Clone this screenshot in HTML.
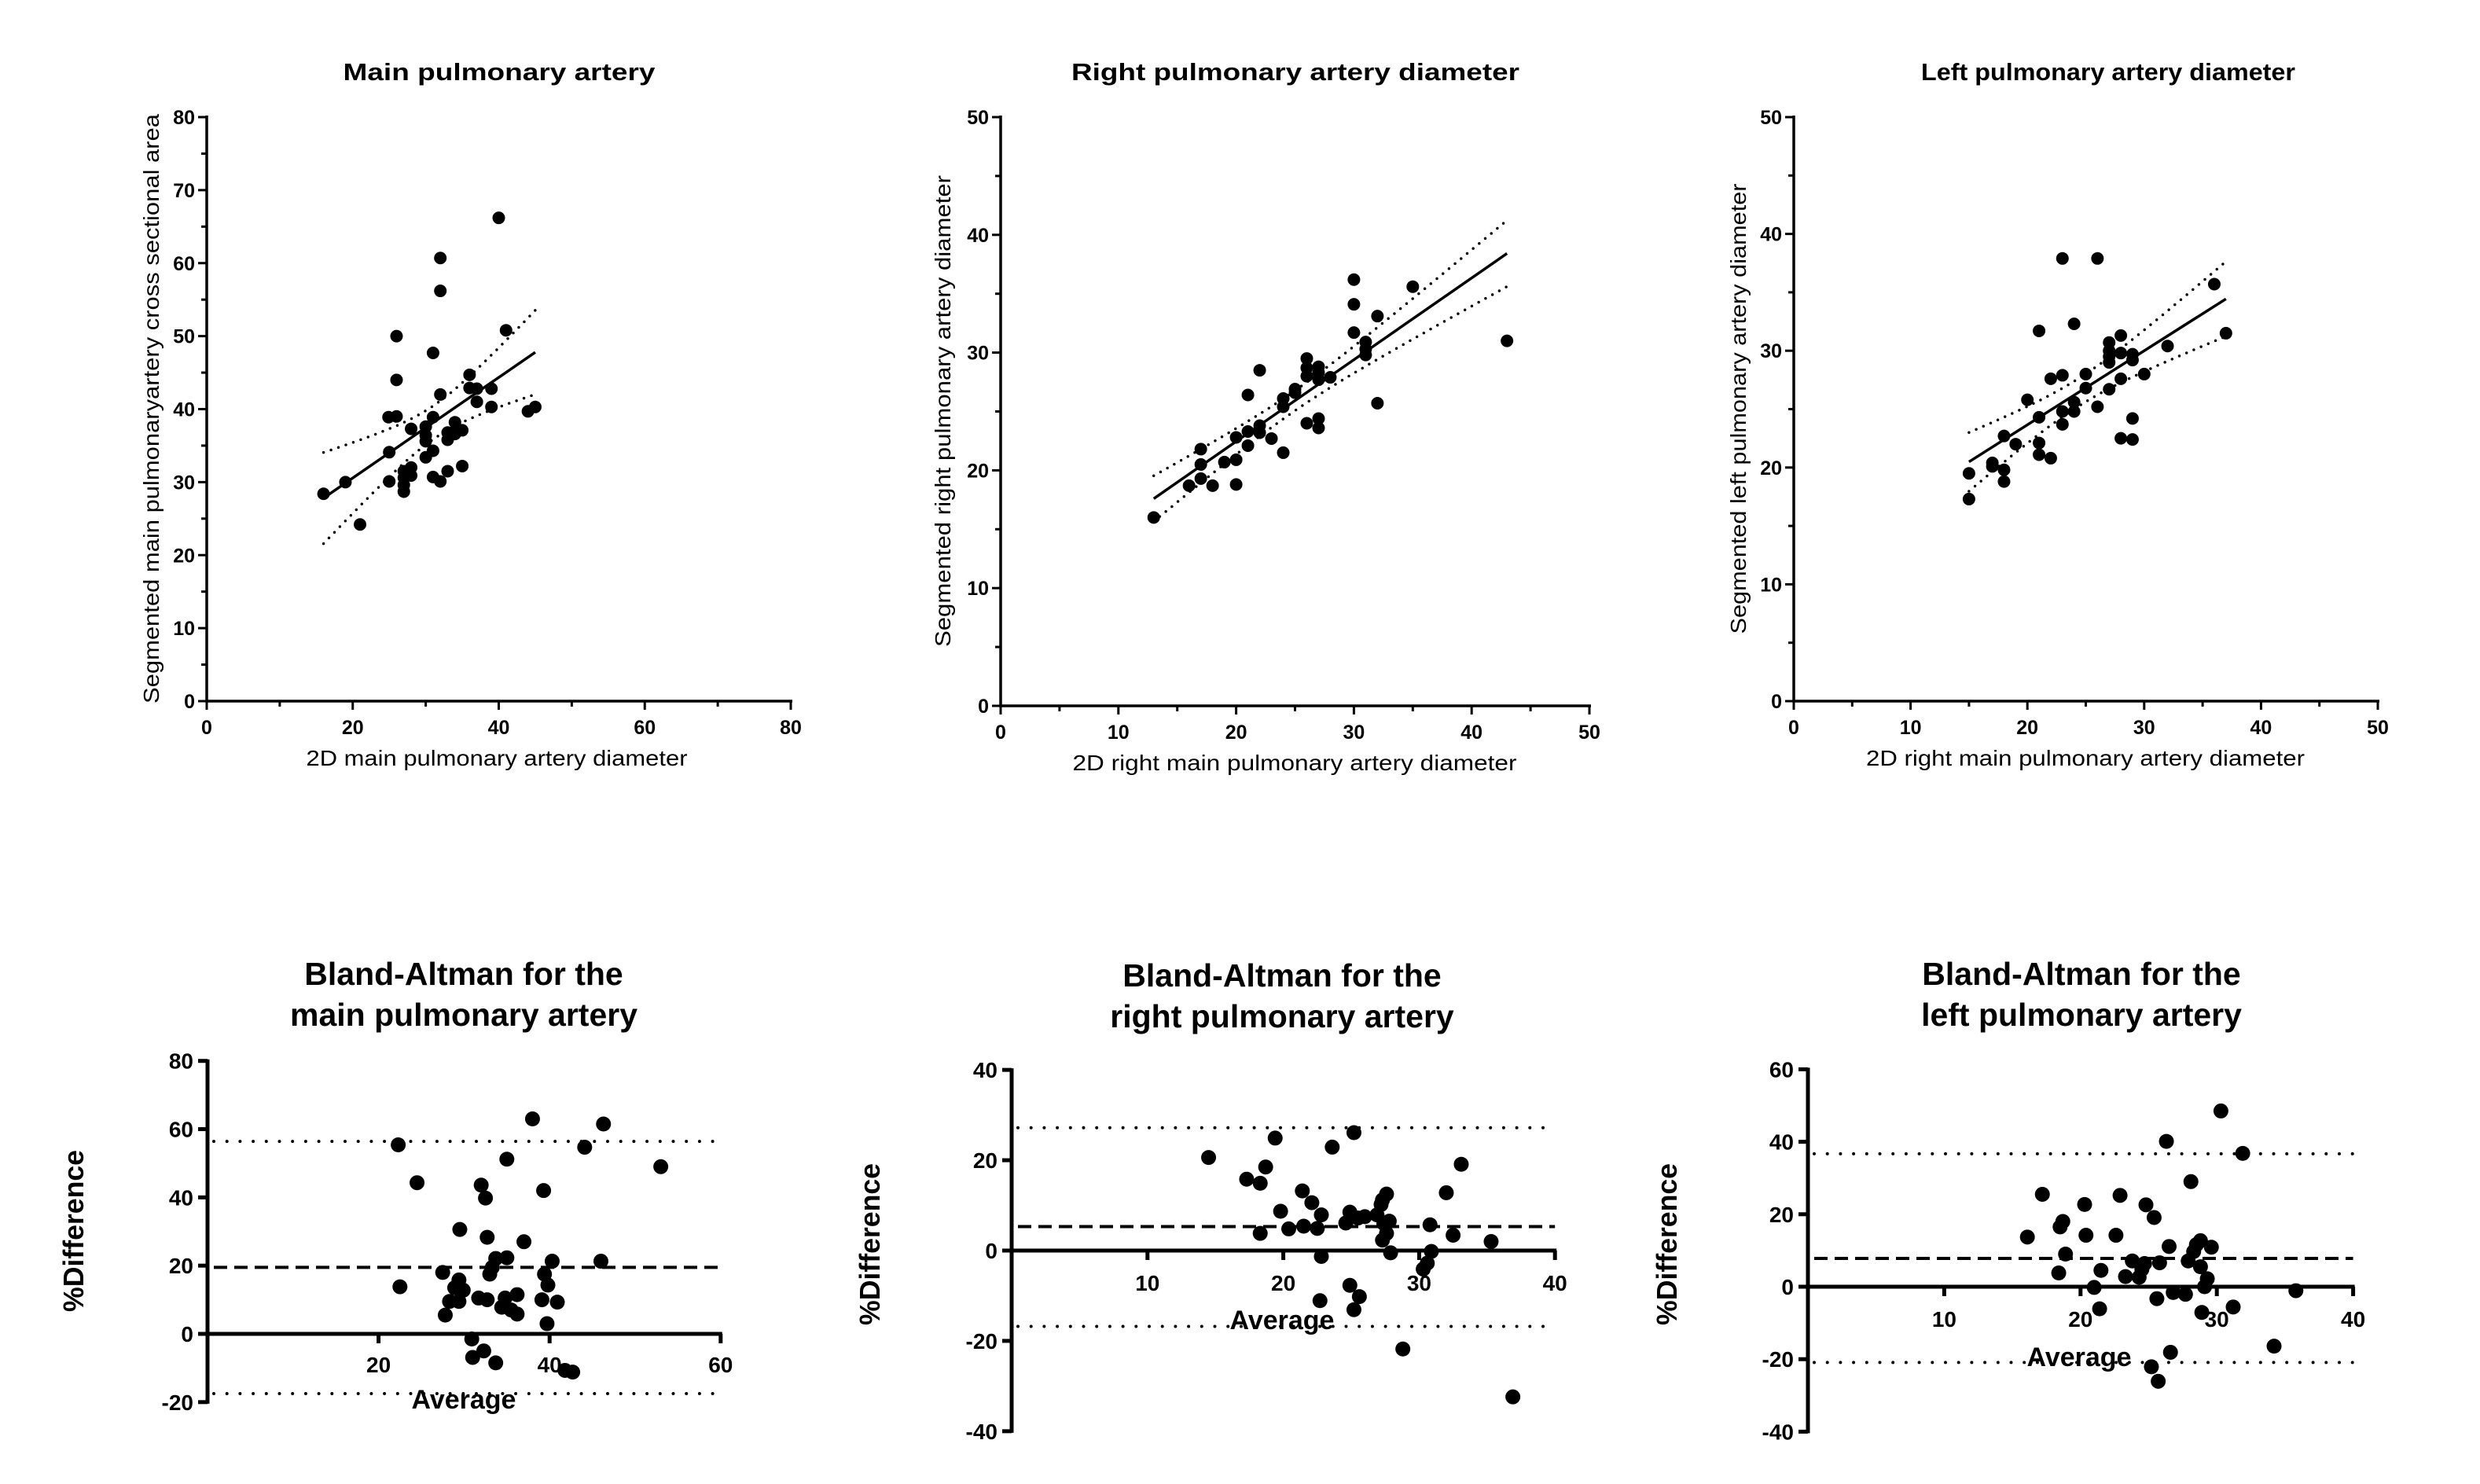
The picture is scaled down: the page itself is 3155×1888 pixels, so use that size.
<!DOCTYPE html>
<html><head><meta charset="utf-8"><style>
html,body{margin:0;padding:0;background:#fff}
svg{display:block}
text{font-family:"Liberation Sans",Arial,sans-serif;fill:#000}
</style></head><body>
<svg id="fig" width="3155" height="1888" viewBox="0 0 3155 1888" xmlns="http://www.w3.org/2000/svg"></svg>
<script>
// ---- Scatter 1: main pulmonary artery ----
const mpaX = [16,19,21,24.9,26,25,25,26,26,28,27,27,27,27,28,28,30,30,30,30,31,31,31,31,32,32,32,32,33,33,33,34,34,35,35,36,36,37,37,39,39,40,41,44,45];
const mpaY = [28.4,30,24.2,38.9,39,34.1,30.1,50,44,37.3,31.5,30.6,29.6,28.7,32,30.9,37.6,36.4,35.6,33.4,47.7,38.9,34.3,30.7,60.7,56.2,42,30.1,36.8,35.8,31.5,38.2,36.6,37.1,32.2,44.7,42.9,42.8,41,42.8,40.3,66.2,50.8,39.7,40.3];
const mpaXTicks = [0,20,40,60,80];
const mpaYTicks = [0,10,20,30,40,50,60,70,80];
// ---- Scatter 2: right pulmonary artery ----
const rpaX = [13,16,17,17,17,18,19,20,20,20,21,21,21,22,22,22,23,24,24,24,25,25,26,26,26,26,27,27,27,27,27,28,30,30,30,31,31,31,32,32,35,43];
const rpaY = [16,18.7,21.8,20.5,19.3,18.7,20.7,22.8,20.9,18.8,26.4,23.3,22.1,28.5,23.8,23.2,22.7,26.1,25.4,21.5,26.9,26.6,29.5,28.7,28.0,24,28.8,28.3,27.7,24.4,23.6,27.9,36.2,34.1,31.7,30.9,30.3,29.8,33.1,25.7,35.6,31];
const rpaXTicks = [0,10,20,30,40,50];
const rpaYTicks = [0,10,20,30,40,50];
// ---- Scatter 3: left pulmonary artery ----
const lpaX = [15,15,17,17,18,18,18,19,20,21,21,21,21,22,22,23,23,23,23,24,24,24,25,25,26,26,27,27,27,27,27,28,28,28,28,29,29,29,29,30,32,36,37];
const lpaY = [19.5,17.3,20.4,20.1,22.7,19.8,18.8,22,25.8,31.7,24.3,22.1,21.1,27.6,20.8,37.9,27.9,24.8,23.7,32.3,25.6,24.8,28,26.8,37.9,25.2,30.7,30,29.5,29,26.7,31.3,29.8,27.6,22.5,29.7,29.2,24.2,22.4,28,30.4,35.7,31.5];
const lpaXTicks = [0,10,20,30,40,50];
const lpaYTicks = [0,10,20,30,40,50];
// ---- Bland-Altman main ----
const baMainAvg = [22.3,22.5,24.5,27.5,27.8,28.3,29.4,28.9,29.9,29.4,29.5,30.9,31,31.7,32,32.5,32.7,32.7,32.3,33,33.3,33.7,33.7,34.4,34.8,35,35,35.5,36.2,36.2,37,38,39.1,39.4,39.3,39.8,39.7,40.3,40.9,41.8,42.7,44.1,46,46.3,53];
const baMainDiff = [55.4,13.8,44.3,18,5.5,9.5,15.8,13.5,12.8,9.5,30.6,-1.5,-6.9,10.5,43.6,39.8,28.3,10,-5,17.5,19.5,22.1,-8.5,7.8,10.5,22.3,51.2,7,11.5,5.8,27,63,10,17.5,42,14.3,3,21.3,9.3,-10.7,-11.2,54.7,21.3,61.5,49];
const baMainLines = [56.4,19.5,-17.5];
const baMainXTicks = [20,40,60];
const baMainYTicks = [-20,0,20,40,60,80];
// ---- Bland-Altman right ----
const baRightAvg = [14.5,17.3,18.3,18.7,19.4,18.3,19.8,20.4,21.4,21.5,22.1,22.8,22.5,22.8,22.7,23.6,24.6,24.9,24.9,25.2,25.6,25.2,25.5,26,26.9,27.2,27.3,27.6,27.4,27.3,27.6,27.8,27.9,28.8,30.8,30.9,30.6,30.3,32,32.5,33.1,35.3,36.9];
const baRightDiff = [20.6,15.8,14.9,18.5,24.9,3.8,8.7,4.8,13.2,5.4,10.6,7.9,4.9,-1.3,-11.1,22.9,6.1,8.5,-7.7,26.1,-10.2,-13.1,7.2,7.5,7.9,10.2,11.2,12.5,6,2.3,3.8,6.5,-0.5,-21.8,5.7,-0.2,-2.8,-4.1,12.8,3.4,19.1,2,-32.4];
const baRightLines = [27.2,5.3,-16.8];
const baRightXTicks = [10,20,30,40];
const baRightYTicks = [-40,-20,0,20,40];
// ---- Bland-Altman left ----
const baLeftAvg = [16.1,17.2,18.4,18.5,18.7,18.9,20.3,20.4,21,21.5,21.4,22.6,22.9,23.3,23.8,24.3,24.5,24.7,24.8,25.4,25.6,25.2,25.7,25.8,26.3,26.5,26.6,26.8,27.7,27.9,28.1,28.3,28.5,28.8,28.8,28.9,29.3,29.1,29.6,30.3,31.2,31.9,34.2,35.8];
const baLeftDiff = [13.7,25.5,3.8,16.5,18,9,22.7,14.2,-0.2,4.5,-6.1,14.2,25.2,2.8,7.1,2.6,4.8,6.4,22.6,19.1,-3.3,-22.1,-26.1,6.6,40.1,11.1,-18.1,-1.6,-2.1,7.1,29,9.7,11.6,12.7,5.5,-7.1,2.2,0,10.9,48.5,-5.6,36.8,-16.4,-1.1];
const baLeftLines = [36.7,7.8,-20.9];
const baLeftXTicks = [10,20,30,40];
const baLeftYTicks = [-40,-20,0,20,40,60];

const NS = "http://www.w3.org/2000/svg";
const svg = document.getElementById('fig');
function mk(tag, attrs, parent, txt){
  const e = document.createElementNS(NS, tag);
  for (const k in attrs) e.setAttribute(k, attrs[k]);
  if (txt !== undefined) e.textContent = txt;
  (parent||svg).appendChild(e);
  return e;
}
function lin(d0,d1,r0,r1){ return v => r0 + (v-d0)/(d1-d0)*(r1-r0); }

function scatter(cfg){
  const g = mk('g', {});
  
  
  const sx = lin(cfg.xd[0], cfg.xd[1], cfg.px[0], cfg.px[1]);
  const sy = lin(cfg.yd[0], cfg.yd[1], cfg.py[0], cfg.py[1]);
  // title
  const t = mk('text', {x:cfg.titleX, y:cfg.titleY, 'text-anchor':'middle', 'font-size':31, 'font-weight':'bold', textLength:cfg.titleW, lengthAdjust:'spacingAndGlyphs'}, g, cfg.title);
  
  
  // axes
  const ax = mk('path', {d:`M${cfg.px[0]},${cfg.py[1]-2} V${cfg.py[0]} H${cfg.px[1]+2}`, stroke:'#000', 'stroke-width':3.5, fill:'none'}, g);
  
  
  // y ticks
  cfg.yTicks.forEach(v => {
    const y = sy(v);
    mk('line', {x1:cfg.px[0]-11, x2:cfg.px[0], y1:y, y2:y, stroke:'#000', 'stroke-width':3}, g);
    const tl = mk('text', {x:cfg.px[0]-15, y:y+9, 'text-anchor':'end', 'font-size':25, 'font-weight':'bold'}, g, String(v));
    
    
  });
  for (let i=0;i<cfg.yTicks.length-1;i++){
    const y = sy((cfg.yTicks[i]+cfg.yTicks[i+1])/2);
    mk('line', {x1:cfg.px[0]-7, x2:cfg.px[0], y1:y, y2:y, stroke:'#000', 'stroke-width':3}, g);
  }
  cfg.xTicks.forEach(v => {
    const x = sx(v);
    mk('line', {x1:x, x2:x, y1:cfg.py[0], y2:cfg.py[0]+11, stroke:'#000', 'stroke-width':3}, g);
    const tl = mk('text', {x:x, y:cfg.py[0]+42, 'text-anchor':'middle', 'font-size':25, 'font-weight':'bold'}, g, String(v));
    
    
  });
  for (let i=0;i<cfg.xTicks.length-1;i++){
    const x = sx((cfg.xTicks[i]+cfg.xTicks[i+1])/2);
    mk('line', {x1:x, x2:x, y1:cfg.py[0], y2:cfg.py[0]+7, stroke:'#000', 'stroke-width':3}, g);
  }
  const xl = mk('text', {x:cfg.xlX, y:cfg.xlY, 'text-anchor':'middle', 'font-size':28, textLength:cfg.xlW, lengthAdjust:'spacingAndGlyphs'}, g, cfg.xLabel);
  
  
  const yl = mk('text', {x:0, y:0, 'text-anchor':'middle', 'font-size':28, textLength:cfg.ylW, lengthAdjust:'spacingAndGlyphs', transform:`translate(${cfg.ylX},${cfg.ylY}) rotate(-90)`}, g, cfg.yLabel);
  
  
  // regression from data
  const X = cfg.x, Y = cfg.y, n = X.length;
  const mx = X.reduce((a,b)=>a+b,0)/n, my = Y.reduce((a,b)=>a+b,0)/n;
  let sxx=0, sxy=0; for (let i=0;i<n;i++){ sxx+=(X[i]-mx)**2; sxy+=(X[i]-mx)*(Y[i]-my); }
  const b = sxy/sxx, a = my - b*mx;
  let sse=0; for (let i=0;i<n;i++){ sse += (Y[i]-a-b*X[i])**2; }
  const s = Math.sqrt(sse/(n-2)), tcrit = 2.02;
  const x0 = Math.min(...X), x1 = Math.max(...X);
  const fit = mk('line', {x1:sx(x0), y1:sy(a+b*x0), x2:sx(x1), y2:sy(a+b*x1), stroke:'#000', 'stroke-width':3.5}, g);
  
  
  [1,-1].forEach(sg => {
    let d='';
    for (let k=0;k<=40;k++){
      const xv = x0 + (x1-x0)*k/40;
      const hw = tcrit*s*Math.sqrt(1/n + (xv-mx)**2/sxx);
      d += (k?'L':'M') + sx(xv).toFixed(1) + ',' + sy(a+b*xv+sg*hw).toFixed(1);
    }
    const ci = mk('path', {d:d, stroke:'#000', 'stroke-width':3.5, fill:'none', 'stroke-dasharray':'0 10', 'stroke-linecap':'round'}, g);
    
    
  });
  X.forEach((xv,i) => {
    const c = mk('circle', {cx:sx(xv), cy:sy(Y[i]), r:8, fill:'#000'}, g);
    
    
  });
}

function bland(cfg){
  const g = mk('g', {});
  
  
  const sx = v => cfg.x0 + v*cfg.xu;
  const sy = v => cfg.y0 - v*cfg.yu;
  cfg.title.forEach((ln,i) => {
    const t = mk('text', {x:cfg.tx, y:cfg.ty + i*52, 'text-anchor':'middle', 'font-size':41, 'font-weight':'bold'}, g, ln);
    
    
  });
  const yt = cfg.yTicks;
  const yax = mk('line', {x1:cfg.x0, x2:cfg.x0, y1:sy(yt[yt.length-1])-2, y2:sy(yt[0])+2, stroke:'#000', 'stroke-width':5}, g);
  
  
  const xEnd = sx(cfg.xTicks[cfg.xTicks.length-1]);
  const xax = mk('line', {x1:cfg.x0, x2:xEnd+2, y1:sy(0), y2:sy(0), stroke:'#000', 'stroke-width':5}, g);
  
  
  yt.forEach(v => {
    mk('line', {x1:cfg.x0-12, x2:cfg.x0, y1:sy(v), y2:sy(v), stroke:'#000', 'stroke-width':5}, g);
    const tl = mk('text', {x:cfg.x0-18, y:sy(v)+10, 'text-anchor':'end', 'font-size':28, 'font-weight':'bold'}, g, String(v));
    
    
  });
  cfg.xTicks.forEach(v => {
    mk('line', {x1:sx(v), x2:sx(v), y1:sy(0), y2:sy(0)+12, stroke:'#000', 'stroke-width':5}, g);
    const tl = mk('text', {x:sx(v), y:cfg.xtY, 'text-anchor':'middle', 'font-size':28, 'font-weight':'bold'}, g, String(v));
    
    
  });
  cfg.lines.forEach((v,i) => {
    const dashed = i===1;
    const l = mk('line', {x1:cfg.x0+8, x2:xEnd, y1:sy(v), y2:sy(v), stroke:'#000', 'stroke-width':dashed?4:4, 'stroke-dasharray':dashed?'17 9':'0 16.7', 'stroke-linecap':dashed?'butt':'round'}, g);
    
    
  });
  const av = mk('text', {x:cfg.avX, y:cfg.avY, 'text-anchor':'middle', 'font-size':34, 'font-weight':'bold'}, g, 'Average');
  
  
  const yl = mk('text', {x:0, y:0, 'text-anchor':'middle', 'font-size':36, 'font-weight':'bold', textLength:206, lengthAdjust:'spacingAndGlyphs', transform:`translate(${cfg.ylX},${cfg.ylY}) rotate(-90)`}, g, '%Difference');
  
  
  cfg.x.forEach((xv,i) => {
    const c = mk('circle', {cx:sx(xv), cy:sy(cfg.y[i]), r:9.5, fill:'#000'}, g);
    
    
  });
}

scatter({name:'main-pa-scatter', x:mpaX, y:mpaY, xd:[0,80], yd:[0,80], px:[263,1006], py:[892,149],
  xTicks:mpaXTicks, yTicks:mpaYTicks, title:'Main pulmonary artery', titleX:635, titleY:102, titleW:397,
  xLabel:'2D main pulmonary artery diameter', xlX:632, xlY:974, xlW:485,
  yLabel:'Segmented main pulmonaryartery cross sectional area', ylX:202, ylY:520, ylW:750});
scatter({name:'right-pa-scatter', x:rpaX, y:rpaY, xd:[0,50], yd:[0,50], px:[1273,2022], py:[898,149],
  xTicks:rpaXTicks, yTicks:rpaYTicks, title:'Right pulmonary artery diameter', titleX:1648, titleY:102, titleW:570,
  xLabel:'2D right main pulmonary artery diameter', xlX:1647, xlY:980, xlW:565,
  yLabel:'Segmented right pulmonary artery diameter', ylX:1209, ylY:523, ylW:600});
scatter({name:'left-pa-scatter', x:lpaX, y:lpaY, xd:[0,50], yd:[0,50], px:[2282,3025], py:[892,149],
  xTicks:lpaXTicks, yTicks:lpaYTicks, title:'Left pulmonary artery diameter', titleX:2682, titleY:102, titleW:476,
  xLabel:'2D right main pulmonary artery diameter', xlX:2653, xlY:974, xlW:558,
  yLabel:'Segmented left pulmonary artery diameter', ylX:2221, ylY:520, ylW:573});

bland({name:'bland-altman-main', x:baMainAvg, y:baMainDiff, lines:baMainLines, xTicks:baMainXTicks, yTicks:baMainYTicks,
  x0:264, xu:10.88, y0:1697, yu:4.341, title:['Bland-Altman for the','main pulmonary artery'], tx:590, ty:1253,
  xtY:1746, avX:590, avY:1792, ylX:106, ylY:1566});
bland({name:'bland-altman-right', x:baRightAvg, y:baRightDiff, lines:baRightLines, xTicks:baRightXTicks, yTicks:baRightYTicks,
  x0:1287, xu:17.28, y0:1591, yu:5.746, title:['Bland-Altman for the','right pulmonary artery'], tx:1631, ty:1255,
  xtY:1642, avX:1631, avY:1691, ylX:1119, ylY:1583});
bland({name:'bland-altman-left', x:baLeftAvg, y:baLeftDiff, lines:baLeftLines, xTicks:baLeftXTicks, yTicks:baLeftYTicks,
  x0:2300, xu:17.34, y0:1637, yu:4.61, title:['Bland-Altman for the','left pulmonary artery'], tx:2648, ty:1253,
  xtY:1688, avX:2645, avY:1738, ylX:2133, ylY:1583});
</script>
</body></html>
